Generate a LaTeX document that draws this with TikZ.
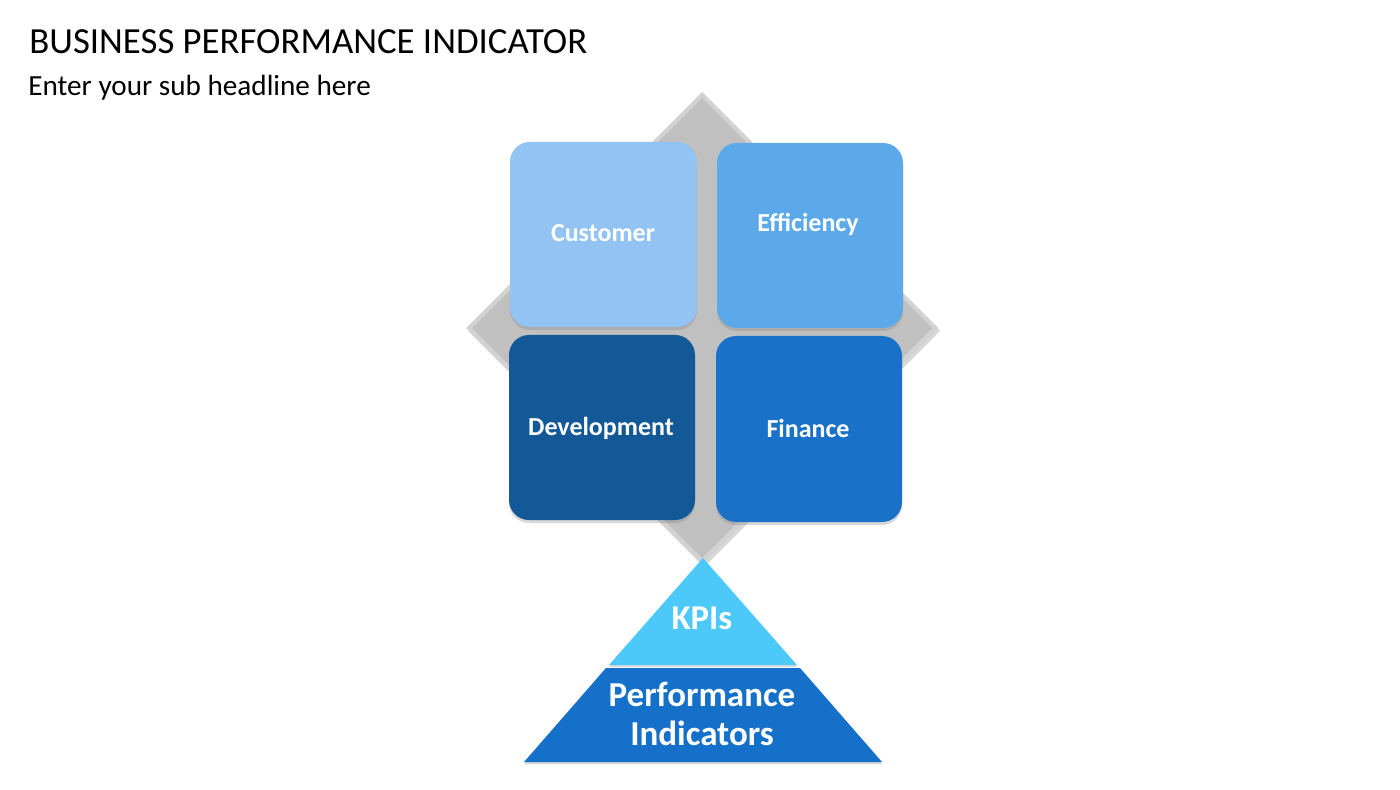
\documentclass[tikz,border=0pt]{standalone}
\usepackage{fontspec}
\setmainfont{Carlito}
\usepackage{tikz}
\usetikzlibrary{shadows}

\definecolor{diamondgray}{RGB}{192,192,192}
\definecolor{diamondlight}{RGB}{210,210,210}
\definecolor{customerblue}{RGB}{146,195,243}
\definecolor{efficiencyblue}{RGB}{91,169,233}
\definecolor{developmentblue}{RGB}{19,88,151}
\definecolor{financeblue}{RGB}{26,114,200}
\definecolor{kpiblue}{RGB}{76,201,249}
\definecolor{piblue}{RGB}{21,112,201}

\begin{document}
\begin{tikzpicture}[x=0.5pt,y=-0.5pt,
  tile/.style={rounded corners=10pt,drop shadow={shadow xshift=0pt,shadow yshift=-1.5pt,opacity=0.3}},
  tilelabel/.style={text=white,font=\bfseries\fontsize{13}{15}\selectfont},
  heading/.style={anchor=base west,inner sep=0pt}]

\useasboundingbox (0,0) rectangle (1400,790);
\path [fill=white] (0,0) rectangle (1400,790);

\node [heading,font=\fontsize{18.4}{21}\selectfont] (title) at (29,54) {BUSINESS PERFORMANCE INDICATOR};
\node [heading,font=\fontsize{14.6}{17}\selectfont] (subtitle) at (28,96) {Enter your sub headline here};

\path [fill=diamondlight,drop shadow={shadow xshift=1pt,shadow yshift=-1.5pt,opacity=0.3}] (702,92) -- (938,328) -- (702,564) -- (466,328) -- cycle;
\path [fill=diamondgray] (702,98) -- (932,328) -- (702,558) -- (472,328) -- cycle;

\path [tile,fill=customerblue] (510,142) rectangle (697,327);
\path [tile,fill=efficiencyblue] (717,143) rectangle (903,328);
\path [tile,fill=developmentblue] (509,335) rectangle (695,520);
\path [tile,fill=financeblue] (716,336) rectangle (902,522);

\node [tilelabel] (customer) at (603,233) {Customer};
\node [tilelabel] (efficiency) at (808,224) {Efficiency};
\node [tilelabel] (development) at (601,428) {Development};
\node [tilelabel] (finance) at (808,428) {Finance};

\path [fill=kpiblue,drop shadow={shadow xshift=0pt,shadow yshift=-1pt,opacity=0.3}] (703,558) -- (797,665) -- (609,665) -- cycle;
\path [fill=piblue,drop shadow={shadow xshift=0pt,shadow yshift=-1pt,opacity=0.3}] (606,668) -- (800,668) -- (882,762) -- (524,762) -- cycle;

\node [text=white,font=\bfseries\fontsize{17.4}{20}\selectfont] (kpis) at (702,618) {KPIs};
\node [text=white,font=\bfseries\fontsize{17.5}{19.5}\selectfont,align=center] (indicators) at (702,714) {Performance\\Indicators};

\end{tikzpicture}
\end{document}
